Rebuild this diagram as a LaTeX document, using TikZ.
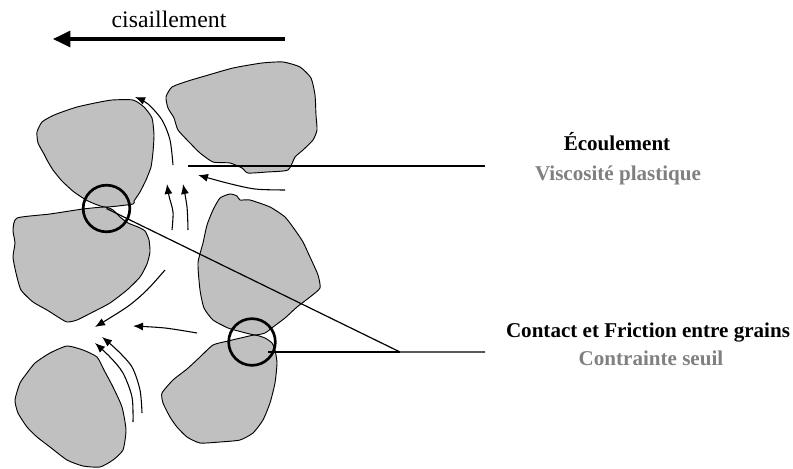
\documentclass[tikz,border=0pt]{standalone}
\usepackage{fontspec}
\setmainfont{Liberation Serif}
\usetikzlibrary{arrows.meta}
\definecolor{grainfill}{RGB}{192,192,192}
\definecolor{labelgray}{RGB}{128,128,128}
\tikzset{
  flow/.style={line width=0.8pt,-{Latex[length=7.5pt,width=6pt]}},
  lead/.style={line width=0.9pt},
  contact/.style={draw,circle,line width=2pt,minimum size=35pt,inner sep=0pt},
  title/.style={font=\bfseries\fontsize{15.8}{18}\selectfont,anchor=base},
  subtitle/.style={title,text=labelgray}
}
% the six grains, drawn twice: fills first, outlines after
\newcommand\grainpaths[1]{
  \path[#1] plot[smooth cycle,tension=0.35] coordinates {(38,143) (37,132) (42,122) (52,116) (62,112) (77,107) (95,103) (112,100) (133,100) (144,107) (152,118) (154,135) (153,152) (151,167) (146,180) (140,192) (134,201) (133,204) (105,207) (88,201) (74,192) (62,181) (53,170) (47,160) (44,154)};
  \path[#1] plot[smooth cycle,tension=0.35] coordinates {(166,97) (172,87) (188,81) (205,76) (233,68) (262,63) (283,62) (300,67) (311,78) (315,95) (316,115) (317,130) (313,140) (303,150) (295,157) (288,170) (267,172) (248,173) (242,168) (230,163) (213,162) (200,153) (190,143) (178,130) (174,118) (168,108)};
  \path[#1] plot[smooth cycle,tension=0.35] coordinates {(17,218) (50,214) (83,209) (105,207) (113,210) (120,217) (128,223) (138,227) (145,231) (149,240) (150,252) (147,264) (140,277) (127,290) (110,303) (93,312) (77,320) (67,322) (58,317) (47,310) (33,302) (21,290) (16,273) (13,257) (15,243) (13,230)};
  \path[#1] plot[smooth cycle,tension=0.35] coordinates {(203,243) (207,225) (213,210) (220,198) (230,194) (237,196) (240,200) (250,200) (270,207) (285,217) (295,230) (303,242) (310,257) (318,275) (320,288) (310,297) (297,307) (285,318) (273,327) (265,333) (255,335) (242,332) (228,328) (213,320) (204,308) (200,290) (198,263)};
  \path[#1] plot[smooth cycle,tension=0.35] coordinates {(200,357) (213,345) (228,341) (245,337) (255,335) (265,338) (272,343) (275,350) (277,363) (275,383) (270,403) (263,420) (253,433) (240,440) (220,442) (200,443) (187,437) (177,427) (170,417) (163,403) (162,393) (173,380) (187,369)};
  \path[#1] plot[smooth cycle,tension=0.35] coordinates {(20,383) (27,373) (35,363) (50,353) (67,346) (83,350) (97,357) (104,370) (113,387) (122,407) (126,430) (123,450) (113,460) (100,467) (83,466) (67,460) (50,447) (37,437) (27,427) (18,413) (15,400)};
}
\begin{document}
\begin{tikzpicture}[x=0.75pt,y=-0.75pt]
  \useasboundingbox (0,0) rectangle (793,468);
  % shear
  \node[font=\fontsize{17.8}{20}\selectfont,anchor=base] (shear) at (169,27) {cisaillement};
  \coordinate (shearR) at (285,39);
  \coordinate (shearL) at (53,39);
  \draw[line width=2.3pt,-{Triangle[length=13pt,width=12pt]}] (shearR) -- (shearL);
  % grains
  \grainpaths{fill=grainfill}
  \grainpaths{draw,line width=0.7pt}
  % flow between the grains
  \draw[flow] plot[smooth] coordinates {(173,165) (170,140) (162,120) (148,104) (135,97)};
  \draw[flow] plot[smooth] coordinates {(285,190) (255,189) (227,183) (198,175)};
  \draw[flow] plot[smooth] coordinates {(172,230) (173,212) (169,196) (167,184)};
  \draw[flow] plot[smooth] coordinates {(188,230) (187,207) (183,184)};
  \draw[flow] plot[smooth] coordinates {(165,270) (147,290) (127,307) (95,327)};
  \draw[flow] plot[smooth] coordinates {(197,333) (165,328) (133,326)};
  \draw[flow] plot[smooth] coordinates {(133,422) (132,397) (123,373) (110,357) (95,343)};
  \draw[flow] plot[smooth] coordinates {(142,413) (140,390) (132,367) (117,350) (102,337)};
  % contacts
  \node[contact] (c1) at (106.5,208.5) {};
  \node[contact] (c2) at (252,342) {};
  % labels
  \node[title] (flowT) at (617,150) {Écoulement};
  \node[subtitle] (flowS) at (618,180) {Viscosité plastique};
  \node[title] (fricT) at (648,337) {Contact et Friction entre grains};
  \node[subtitle] (fricS) at (651,365) {Contrainte seuil};
  % leaders
  \coordinate (upA) at (188,166);
  \coordinate (upB) at (485,166);
  \coordinate (c2in) at (268,352);
  \coordinate (join) at (400,352);
  \coordinate (lowB) at (485,352);
  \draw[lead] (upA) -- (upB);
  \draw[lead] (c1.center) -- (join) -- (lowB);
  \draw[lead] (c2in) -- (join);
\end{tikzpicture}
\end{document}
